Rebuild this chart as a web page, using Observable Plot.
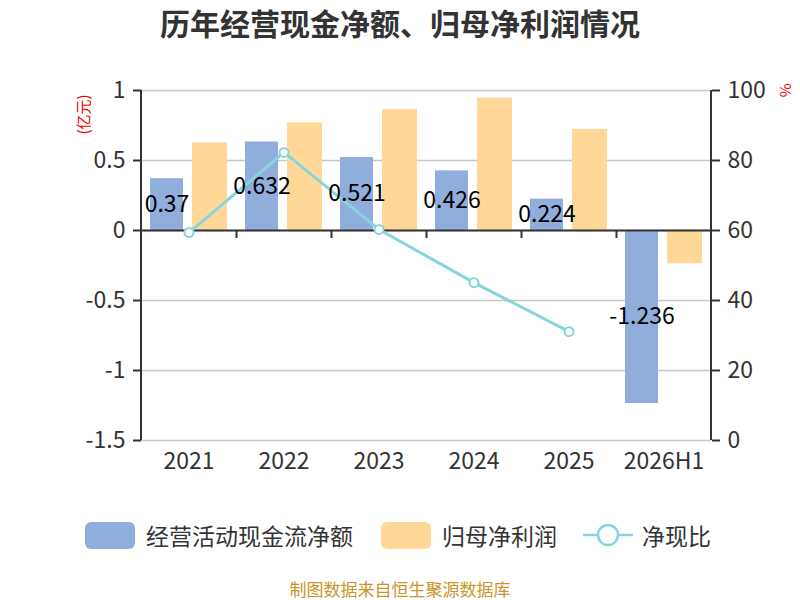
<!DOCTYPE html>
<html><head><meta charset="utf-8">
<script src="https://cdn.jsdelivr.net/npm/d3@7"></script>
<script src="https://cdn.jsdelivr.net/npm/@observablehq/plot@0.6"></script>
<style>
body{margin:0;background:#fff;font-family:"Noto Sans CJK SC","Noto Sans",sans-serif;}
#wrap{position:relative;width:800px;height:600px;overflow:hidden;}
#title{position:absolute;top:0;left:0;width:800px;text-align:center;font-size:30px;font-weight:bold;color:#333;line-height:44px;}
#chart{position:absolute;top:50px;left:0;}
.unit{position:absolute;color:#e00;font-size:15px;white-space:nowrap;}
.leg{position:absolute;top:520px;display:flex;align-items:center;height:30px;font-size:23px;color:#333;}
.sw{width:50px;height:27px;border-radius:6px;margin-right:11px;}
#foot{position:absolute;top:578px;left:0;width:800px;text-align:center;font-size:17px;line-height:22px;color:#c8952b;}
</style></head>
<body>
<div id="wrap">
  <div id="title">历年经营现金净额、归母净利润情况</div>
  <div id="chart"></div>
  <div class="unit" id="uL" style="left:62px;top:104px;transform:rotate(-90deg);">(亿元)</div>
  <div class="unit" id="uR" style="left:780px;top:80px;transform:rotate(90deg);">%</div>
  <div id="legend"></div>
  <div id="foot">制图数据来自恒生聚源数据库</div>
</div>
<script>
const years = ["2021","2022","2023","2024","2025","2026H1"];
const cashFlow = [0.37, 0.632, 0.521, 0.426, 0.224, -1.236];
const netProfit = [0.626, 0.769, 0.864, 0.945, 0.721, -0.238];
const ratio = [59.4, 82.3, 60.3, 45.1, 31.1, null];
const leftTicks = [-1.5, -1, -0.5, 0, 0.5, 1];
const rightTicks = [0, 20, 40, 60, 80, 100];
const seriesNames = ["经营活动现金流净额", "归母净利润", "净现比"];

const BLUE = "#8faedb", ORANGE = "#ffd898", TEAL = "#86d5da";
// right axis: percent p maps onto left scale value (p-60)/40
const pctToY = p => (p - 60) / 40;
const yToPct = v => Math.round(v * 40 + 60);

const data = years.map((y, i) => ({year: y, cash: cashFlow[i], profit: netProfit[i], ratio: ratio[i]}));
const lineData = data.filter(d => d.ratio != null);

const W = 800, H = 450, mL = 141, mR = 89, mT = 40, mB = 60;
const band = (W - mL - mR) / years.length;

const axisLines = (index, scales, values, dim) => {
  const g = d3.create("svg:g").attr("stroke", "#333").attr("stroke-width", 2);
  const x0 = dim.marginLeft, x1 = dim.width - dim.marginRight;
  const yT = dim.marginTop, yB = dim.height - dim.marginBottom;
  g.append("line").attr("x1", x0).attr("x2", x0).attr("y1", yT).attr("y2", yB);
  g.append("line").attr("x1", x1).attr("x2", x1).attr("y1", yT).attr("y2", yB);
  return g.node();
};

const chart = Plot.plot({
  width: W, height: H,
  marginLeft: mL, marginRight: mR, marginTop: mT, marginBottom: mB,
  style: {fontFamily: '"Noto Sans CJK SC","Noto Sans",sans-serif', background: "transparent"},
  x: {type: "band", domain: years, paddingInner: 0, paddingOuter: 0, axis: null, label: null},
  y: {domain: [-1.5, 1], axis: null, label: null},
  marks: [
    Plot.gridY(leftTicks, {stroke: "#c8c8c8", strokeOpacity: 1, strokeWidth: 1.5}),
    Plot.barY(data, {x: "year", y: "cash", fill: BLUE, insetLeft: 9, insetRight: 53}),
    Plot.barY(data, {x: "year", y: "profit", fill: ORANGE, insetLeft: 51, insetRight: 9}),
    Plot.ruleY([0], {stroke: "#333", strokeWidth: 2}),
    Plot.ruleX(years.slice(1), {x: d => d, y1: 0, y2: 0, insetBottom: -8, dx: -band / 2, stroke: "#333", strokeWidth: 2}),
    axisLines,
    Plot.axisY(leftTicks, {anchor: "left", label: null, tickSize: 8, tickPadding: 8, fontSize: 23, fill: "#333", stroke: "#333", strokeWidth: 2, tickFormat: d => String(d)}),
    Plot.axisY(leftTicks, {anchor: "right", label: null, tickSize: 8, tickPadding: 8, fontSize: 23, fill: "#333", stroke: "#333", strokeWidth: 2, tickFormat: yToPct}),
    Plot.axisX(years, {anchor: "bottom", label: null, tickSize: 0, tickPadding: 12, fontSize: 23, fill: "#333"}),
    Plot.line(lineData, {x: "year", y: d => pctToY(d.ratio), stroke: TEAL, strokeWidth: 3}),
    Plot.dot(lineData, {x: "year", y: d => pctToY(d.ratio), r: 4.5, fill: "white", stroke: TEAL, strokeWidth: 2}),
    Plot.text(data, {x: "year", y: d => d.cash / 2, text: d => String(d.cash), dx: -22, fontSize: 23, fill: "#000"})
  ]
});
document.getElementById("chart").appendChild(chart);

// legend
const legend = document.getElementById("legend");
const legPos = [85, 381, 583];
seriesNames.forEach((name, i) => {
  const item = document.createElement("div");
  item.className = "leg";
  item.style.left = legPos[i] + "px";
  if (i < 2) {
    const sw = document.createElement("div");
    sw.className = "sw";
    sw.style.background = i === 0 ? BLUE : ORANGE;
    item.appendChild(sw);
  } else {
    const s = d3.create("svg").attr("width", 50).attr("height", 30).style("margin-right", "9px");
    s.append("line").attr("x1", 0).attr("x2", 50).attr("y1", 15).attr("y2", 15).attr("stroke", TEAL).attr("stroke-width", 2.5);
    s.append("circle").attr("cx", 25).attr("cy", 15).attr("r", 10).attr("fill", "white").attr("stroke", TEAL).attr("stroke-width", 2.5);
    item.appendChild(s.node());
  }
  const t = document.createElement("span");
  t.textContent = name;
  item.appendChild(t);
  legend.appendChild(item);
});
</script>
</body></html>
